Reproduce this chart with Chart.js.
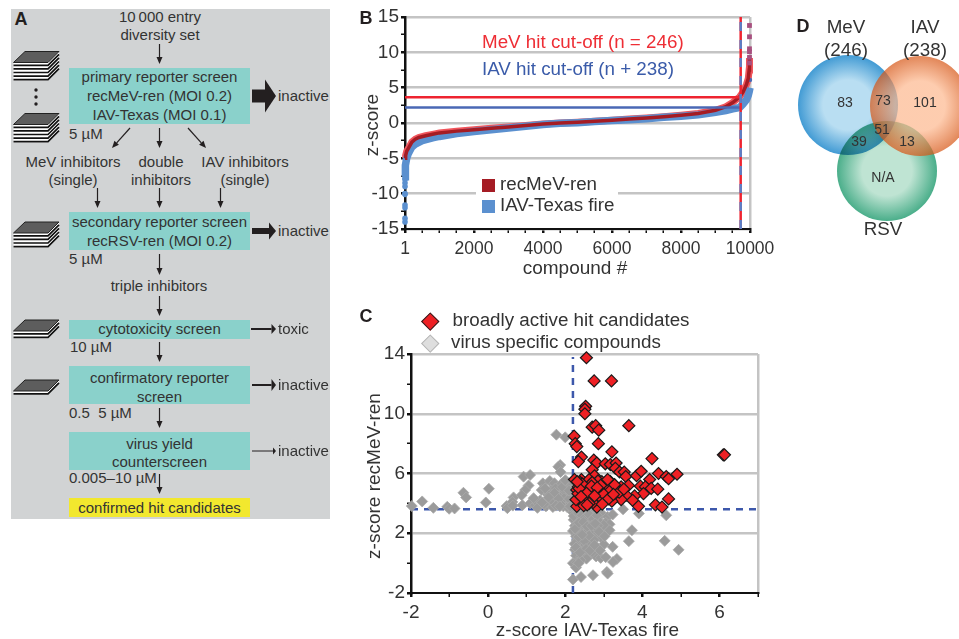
<!DOCTYPE html>
<html>
<head>
<meta charset="utf-8">
<title>screen</title>
<script src="https://cdn.jsdelivr.net/npm/chart.js@4"></script>
<style>
html, body { margin: 0; padding: 0; background: #fff; }
#page { position: relative; width: 959px; height: 639px; overflow: hidden; background: #fff; font-family: "Liberation Sans", Arial, sans-serif; color: #333; }
#page canvas, #page svg { position: absolute; }
.lab { position: absolute; white-space: pre; line-height: 1; transform: translate(-50%, -50%); }
.lab.left { transform: translate(0, -50%); }
.box { position: absolute; background: #8ad1cb; }
</style>
</head>
<body>
<div id="page">
  <div style="position:absolute;left:11px;top:9px;width:319px;height:510px;background:#d1d3d4"></div>
  <div class="box" style="left:69px;top:68px;width:181px;height:56px"></div>
  <div class="box" style="left:69px;top:212px;width:181px;height:38px"></div>
  <div class="box" style="left:69px;top:320px;width:181px;height:19px"></div>
  <div class="box" style="left:69px;top:366px;width:181px;height:38px"></div>
  <div class="box" style="left:69px;top:432px;width:181px;height:38px"></div>
  <div class="box" style="left:69px;top:498px;width:181px;height:19px;background:#f2e82e"></div>
  <svg id="flow" width="340" height="530" style="left:0;top:0"></svg>
  <canvas id="chartB" width="440" height="285" style="left:350px;top:0"></canvas>
  <canvas id="chartC" width="430" height="339" style="left:350px;top:300px"></canvas>
  <canvas id="chartD" width="179" height="250" style="left:780px;top:0"></canvas>
  <div style="position:absolute;left:476px;top:175px;width:142px;height:42px;background:#fff"></div>
  <div style="position:absolute;left:482px;top:179px;width:13px;height:13px;background:#a51c24"></div>
  <div style="position:absolute;left:482px;top:200px;width:13px;height:13px;background:#5b90cf"></div>
  <div style="position:absolute;left:423.5px;top:314.5px;width:10.5px;height:10.5px;background:#ee2024;border:1px solid #222;transform:rotate(45deg)"></div>
  <div style="position:absolute;left:423.5px;top:337px;width:10.5px;height:10.5px;background:#dedede;border:1px solid #b5b5b5;transform:rotate(45deg)"></div>
</div>
<script>
// panel B, sorted z-scores
var mevIndex = [1, 20, 50, 100, 200, 300, 400, 600, 800, 1000, 1500, 2000, 2500, 3000, 3500, 4000, 4500, 5000, 5500, 6000, 6500, 7000, 7500, 8000, 8500, 9000, 9300, 9500, 9700, 9800, 9850, 9900, 9950, 9975, 9985];
var mevZ = [-5, -4.6, -4, -3.6, -2.7, -2.3, -2.05, -1.8, -1.6, -1.4, -1.15, -0.95, -0.75, -0.55, -0.35, -0.15, 0, 0.1, 0.25, 0.4, 0.55, 0.7, 0.9, 1.1, 1.35, 1.8, 2.3, 2.9, 3.7, 4.4, 4.9, 5.5, 6.3, 7.5, 9.2];
var iavIndex = [1, 5, 20, 50, 100, 200, 300, 500, 800, 1000, 1500, 2000, 2500, 3000, 3500, 4000, 4500, 5000, 5500, 6000, 6500, 7000, 7500, 8000, 8500, 9000, 9300, 9500, 9700, 9800, 9900, 9950, 9980, 10000];
var iavZ = [-7.6, -6.6, -6, -5, -4.3, -3.4, -3, -2.5, -2.1, -1.9, -1.5, -1.2, -0.95, -0.7, -0.45, -0.2, -0.05, 0.05, 0.2, 0.35, 0.45, 0.6, 0.8, 0.95, 1.15, 1.5, 1.75, 2, 2.2, 2.7, 3.3, 3.9, 4.5, 5];
var mevTopIndex = [9985, 9985, 9985, 9985, 9985, 9985];
var mevTopZ = [13.8, 12.2, 10.5, 10.1, 9.3, 8.5];
var iavLowIndex = [1, 1, 1, 1, 1, 1, 1, 1, 1, 1];
var iavLowZ = [-8, -8.5, -9, -10, -10.1, -11.6, -12, -13.5, -14, -7.8];
var iavTopIndex = [10000];
var iavTopZ = [6.1];
var mevCutZ = 3.65;
var iavCutZ = 2.2;
var cutIndex = 9730;
var indexTicks = [1, 500, 1000, 1500, 2000, 2500, 3000, 3500, 4000, 4500, 5000, 5500, 6000, 6500, 7000, 7500, 8000, 8500, 9000, 9500, 10000];
var indexLabels = [1, 2000, 4000, 6000, 8000, 10000];
var zLabelsB = [-15, -10, -5, 0, 5, 10, 15];

// panel C, broadly active compounds
var hitIav = [2.55, 2.75, 3.2, 2.53, 2.51, 2.51, 2.7, 2.79, 2.87, 3.65,
  2.23, 2.26, 2.3, 2.86, 3.21, 2.42, 2.34, 2.74, 2.82, 4.25,
  6.1, 6.13, 3.04, 3.17, 3.32, 3.3, 3.41, 3.53, 3.57, 3.85,
  3.97, 4.42, 4.62, 4.68, 4.9, 4.19, 3.95, 4.08, 4.23, 4.4,
  4.03, 3.8, 3.64, 3.58, 3.45, 3.75, 3.9, 4.34, 4.51, 4.68,
  2.7, 2.76, 2.42, 2.24, 2.39, 2.6, 2.78, 2.95, 3.17, 3.0,
  3.08, 3.34, 3.21, 3.08, 2.87, 2.74, 2.6, 2.47, 2.39, 2.3,
  2.39, 2.82, 2.3, 2.39, 2.52, 2.67, 2.98, 2.34, 2.45, 2.55,
  2.65, 2.8, 2.9, 3.05, 3.15, 2.55, 2.35, 2.5, 2.85, 2.62,
  3.45, 2.9, 2.7, 3.0, 2.28, 2.33, 2.44, 2.58, 2.68, 2.72,
  2.92, 3.12, 3.28, 3.4, 2.48, 2.36, 2.62, 2.83, 2.96, 3.1,
  2.31, 2.41, 2.57, 3.25, 3.52, 2.76];
var hitMev = [13.75, 12.2, 12.2, 10.5, 10.3, 10.0, 9.1, 9.2, 8.9, 9.2,
  8.5, 8.0, 7.8, 8.0, 7.45, 7.1, 6.8, 6.9, 6.7, 7.0,
  7.25, 7.25, 6.65, 6.6, 6.7, 6.35, 6.1, 6.1, 5.8, 5.85,
  6.15, 6.0, 5.8, 5.65, 5.95, 5.6, 5.15, 5.1, 5.0, 4.95,
  4.65, 4.5, 5.2, 4.55, 4.25, 4.2, 3.8, 3.9, 3.75, 4.3,
  6.25, 5.85, 5.6, 5.6, 5.4, 5.35, 5.2, 5.45, 5.45, 5.0,
  5.05, 4.9, 4.15, 4.45, 4.65, 4.9, 4.45, 4.2, 4.9, 4.9,
  4.1, 3.75, 3.8, 4.55, 4.9, 4.2, 4.25, 5.1, 4.7, 5.0,
  4.7, 4.3, 4.9, 5.3, 4.8, 4.1, 4.35, 4.5, 5.5, 5.6,
  5.1, 4.45, 5.4, 4.6, 4.25, 4.65, 5.3, 4.75, 5.15, 4.05,
  5.2, 4.3, 5.25, 4.75, 3.85, 5.0, 4.0, 5.05, 3.95, 5.6,
  5.45, 4.45, 3.9, 4.6, 4.95, 4.5];
// panel C, virus specific compounds
var otherIav = [-1.98, -1.71, -1.42, -1.06, -1.01, -0.87, -0.64, -0.57, -0.06, 0.02,
  0.48, 0.5, 0.66, 0.63, 0.64, 0.92, 1.09, 1.05, 0.96, 0.87,
  0.89, 1.09, 1.22, 1.3, 1.42, 1.39, 1.35, 1.5, 1.28, 1.6,
  1.65, 1.7, 1.78, 1.52, 1.95, 1.87, 1.82, 1.88, 1.77, 2.0,
  1.72, 1.85, 1.95, 2.04, 2.12, 2.08, 1.98, 1.8, 1.62, 1.97,
  2.15, 2.18, 1.9, 1.75, 1.55, 1.45, 1.68, 2.05, 2.15, 1.88,
  2.2, 2.3, 2.45, 2.6, 2.75, 2.95, 3.1, 3.23, 3.5, 3.91,
  4.62, 2.22, 2.35, 2.48, 2.62, 2.78, 2.9, 3.05, 3.15, 2.25,
  2.38, 2.52, 2.65, 2.8, 2.95, 3.15, 3.0, 2.2, 2.32, 2.45,
  2.58, 2.7, 2.85, 3.73, 2.28, 2.42, 2.55, 2.66, 2.3, 2.95,
  3.0, 3.65, 4.58, 4.94, 2.35, 2.48, 2.6, 2.72, 2.85, 3.23,
  2.25, 2.38, 2.52, 2.66, 2.8, 2.92, 3.05, 3.34, 3.24, 2.28,
  2.42, 2.55, 2.7, 2.9, 2.2, 2.3, 2.4, 2.28, 2.2, 2.41,
  2.72, 3.08, 3.1, 2.35, 2.5, 2.75, 2.85, 2.4, 2.55, 2.7, 2.62, 2.32,
  1.58, 1.67, 1.72, 1.83, 1.92, 2.02, 2.1, 2.18, 1.48, 1.57,
  1.76, 1.86, 2.0, 2.1, 1.4, 1.18, 2.13, 2.22, 2.33, 2.43,
  2.52, 2.62, 2.72, 2.82, 2.26, 2.36, 2.47, 2.57, 2.68, 2.78,
  2.88, 3.02, 2.24, 2.34, 2.44, 2.54, 2.64, 2.76, 2.28, 2.38];
var otherMev = [3.82, 4.13, 3.7, 3.77, 3.64, 3.66, 4.71, 4.4, 4.06, 4.98,
  3.82, 3.68, 4.4, 4.1, 3.85, 5.79, 5.9, 5.2, 4.89, 4.55,
  3.88, 4.0, 3.88, 4.0, 5.34, 4.89, 4.2, 3.8, 3.7, 5.5,
  4.9, 4.4, 4.0, 4.2, 3.8, 6.57, 6.45, 6.1, 8.6, 8.42,
  5.35, 4.9, 4.7, 5.05, 5.2, 4.5, 4.1, 4.55, 3.95, 4.35,
  4.1, 4.55, 5.3, 5.0, 4.6, 3.95, 3.75, 3.75, 3.7, 3.95,
  3.4, 3.2, 3.5, 3.45, 3.4, 3.3, 3.1, 3.25, 3.6, 3.32,
  3.2, 2.9, 2.85, 2.9, 2.7, 2.9, 2.75, 2.7, 2.6, 2.5,
  2.45, 2.3, 2.35, 2.2, 2.35, 2.2, 2.55, 2.15, 2.1, 2.0,
  2.15, 1.9, 1.95, 2.2, 1.8, 1.7, 1.6, 1.45, 1.55, 1.65,
  1.25, 1.47, 1.49, 0.89, 1.25, 1.1, 1.2, 1.05, 1.0, 1.09,
  0.9, 0.85, 0.7, 0.6, 0.45, 0.35, 0.4, 0.28, 0.08, 0.5,
  0.45, 0.3, 0.75, 0.85, 0.0, 0.05, 0.2, -0.3, -1.1, -0.93,
  -0.81, -0.59, -0.7, 0.0, 1.5, 1.55, 2.5, 3.0, 2.55, 3.1, 1.85, 2.65,
  4.55, 4.15, 4.7, 4.3, 5.1, 5.5, 4.3, 4.9, 5.0, 4.4,
  3.85, 3.8, 5.55, 4.85, 4.05, 4.35, 3.8, 3.15, 3.35, 3.2,
  3.05, 3.25, 2.95, 3.2, 2.3, 2.7, 2.75, 2.45, 2.5, 2.65,
  2.1, 1.8, 1.3, 1.75, 1.9, 0.95, 0.85, 1.2, 1.05, 0.7];
var iavCutC = 2.2;
var mevCutC = 3.6;
var iavTicksC = [-2, -1, 0, 1, 2, 3, 4, 5, 6, 7];
var iavLabelsC = [-2, 0, 2, 4, 6];
var mevTicksC = [-2, 0, 2, 4, 6, 8, 10, 12, 14];
var mevLabelsC = [-2, 2, 6, 10, 14];

// panel D, three equal circles and the counts of each region
var vennNames = ["MeV", "IAV", "RSV"];
var vennTotals = ["(246)", "(238)"];
var vennCx = [68, 140, 107];
var vennCy = [105, 106, 171];
var vennR = [50, 50, 50];
var vennInner = ["#b9def2", "rgba(253,183,141,0.7)", "#bfe4d3"];
var vennOuter = ["#429bd4", "rgba(214,84,19,0.7)", "#4aae8a"];
var vennOrder = [3, 1, 2];
var vennCounts = ["83", "73", "101", "51", "39", "13", "N/A"];

var page = document.getElementById("page");
var svgNs = "http://www.w3.org/2000/svg";
var flow = document.getElementById("flow");
var axisFont = { family: "'Liberation Sans', Arial, sans-serif", size: 19 };
var indexFont = { family: "'Liberation Sans', Arial, sans-serif", size: 17.5 };

function label(text, x, y, size, opts) {
    opts = opts || {};
    var d = document.createElement("div");
    d.className = "lab" + (opts.left ? " left" : "");
    d.textContent = text;
    d.style.left = x + "px";
    d.style.top = y + "px";
    d.style.fontSize = size + "px";
    if (opts.color) d.style.color = opts.color;
    if (opts.bold) d.style.fontWeight = "bold";
    if (opts.rotate) d.style.transform = "translate(-50%,-50%) rotate(-90deg)";
    page.appendChild(d);
}
function shape(name, attrs) {
    var el = document.createElementNS(svgNs, name);
    for (var k in attrs) el.setAttribute(k, attrs[k]);
    flow.appendChild(el);
}
function arrow(x1, y1, x2, y2, w, len, half) {
    var a = Math.atan2(y2 - y1, x2 - x1);
    len = len || 7;
    half = half || 3;
    var bx = x2 - Math.cos(a) * len, by = y2 - Math.sin(a) * len;
    shape("line", { x1: x1, y1: y1, x2: bx, y2: by, stroke: "#231f20", "stroke-width": w });
    var px = Math.sin(a) * half, py = -Math.cos(a) * half;
    shape("polygon", { points: x2 + "," + y2 + " " + (bx + px) + "," + (by + py) + " " + (bx - px) + "," + (by - py), fill: "#231f20" });
}
function plates(y0, n, h) {
    var i, bottom = y0 + 11 + n * h;
    shape("polygon", { points: "13.5," + (y0 + 11) + " 25," + y0 + " 59," + y0 + " 59," + (bottom - 11) + " 48," + bottom + " 13.5," + bottom, fill: "#fff" });
    for (i = 1; i <= n; i++) {
        var yy = y0 + 11 + i * h - 0.8;
        shape("polyline", { points: "13.5," + yy + " 48," + yy + " 59," + (yy - 11), fill: "none", stroke: "#111", "stroke-width": 1.7 });
    }
    shape("polygon", { points: "13.5," + (y0 + 11) + " 25," + y0 + " 59," + y0 + " 48," + (y0 + 11), fill: "#5d5d5d", stroke: "#222", "stroke-width": 1 });
}

// panel A
plates(51.5, 5, 3.6);
plates(113.5, 5, 3.6);
plates(222, 4, 3.6);
plates(320, 2, 3.6);
plates(380, 1, 3.6);
[90, 97, 104].forEach(function (y) { shape("circle", { cx: 36, cy: y, r: 1.7, fill: "#231f20" }); });
[[159.5, 44, 159.5, 64], [130, 128, 112, 148], [159.5, 128, 159.5, 148], [188, 128, 206, 148],
 [97.5, 188, 97.5, 208], [159.5, 188, 159.5, 208], [220.5, 188, 220.5, 208], [159.5, 254, 159.5, 275],
 [159.5, 296, 159.5, 316], [159.5, 342, 159.5, 362], [159.5, 408, 159.5, 428], [159.5, 474, 159.5, 494]
].forEach(function (a) { arrow(a[0], a[1], a[2], a[3], 1.2); });
arrow(252, 96, 276, 96, 13, 11, 16.5);
arrow(252, 231, 276, 231, 6, 7, 8.5);
arrow(251, 329, 276, 329, 2, 4.5, 5);
arrow(252, 385, 276, 385, 2, 4.5, 6);
arrow(252, 451, 276, 451, 1, 3, 3.5);

label("A", 21, 19, 18, { bold: true, color: "#231f20" });
label("10\u2009000 entry", 160, 16, 15);
label("diversity set", 160, 34, 15);
label("primary reporter screen", 159.5, 76, 15);
label("recMeV-ren (MOI 0.2)", 159.5, 95, 15);
label("IAV-Texas (MOI 0.1)", 159.5, 114, 15);
label("5 \u00b5M", 69, 132.5, 15, { left: true });
label("MeV inhibitors", 73, 161, 15);
label("(single)", 73, 179, 15);
label("double", 161, 161, 15);
label("inhibitors", 161, 179, 15);
label("IAV inhibitors", 245, 161, 15);
label("(single)", 245, 179, 15);
label("secondary reporter screen", 159.5, 221, 15);
label("recRSV-ren (MOI 0.2)", 159.5, 240, 15);
label("5 \u00b5M", 69, 258, 15, { left: true });
label("triple inhibitors", 159, 285, 15);
label("cytotoxicity screen", 159.5, 328, 15);
label("10 \u00b5M", 70, 346, 15, { left: true });
label("confirmatory reporter", 159.5, 377, 15);
label("screen", 159.5, 396, 15);
label("0.5  5 \u00b5M", 69, 412, 15, { left: true });
label("virus yield", 159.5, 443, 15);
label("counterscreen", 159.5, 461, 15);
label("0.005\u201310 \u00b5M", 69, 477, 15, { left: true });
label("confirmed hit candidates", 159.5, 507, 15);
["inactive", "inactive", "toxic", "inactive", "inactive"].forEach(function (t, i) {
    label(t, 278, [95, 230, 328, 384, 450][i], 15, { left: true });
});

// panel B
label("B", 366, 18, 18, { bold: true, color: "#231f20" });
label("MeV hit cut-off (n = 246)", 482, 42, 18.8, { left: true, color: "#ee2e35" });
label("IAV hit cut-off (n + 238)", 482, 69, 18.8, { left: true, color: "#3a5ba9" });
label("recMeV-ren", 500, 184, 18.8, { left: true });
label("IAV-Texas fire", 500, 205, 18.8, { left: true });
label("z-score", 371, 125, 19, { rotate: true });
label("compound #", 575, 267, 19);

function xy(xs, ys) {
    return xs.map(function (x, i) { return { x: x, y: ys[i] }; });
}
function curve(xs, ys, color, width, order) {
    return { data: xy(xs, ys), showLine: true, borderColor: color, borderWidth: width, pointRadius: 0, order: order, clip: false };
}
function dots(xs, ys, color, radius, order, style) {
    return { data: xy(xs, ys), showLine: false, backgroundColor: color, borderWidth: 0, pointRadius: radius, pointStyle: style || "circle", order: order, clip: false };
}
function rule(x1, y1, x2, y2, color, width, order, dash) {
    return { data: [{ x: x1, y: y1 }, { x: x2, y: y2 }], showLine: true, borderColor: color, borderWidth: width, borderDash: dash || [], pointRadius: 0, order: order, clip: false };
}
function isMajor(list, v) { return list.indexOf(v) >= 0; }
function fixSize(prop, v) { return function (s) { s[prop] = v; }; }

new Chart(document.getElementById("chartB"), {
    type: "scatter",
    data: {
        datasets: [
            rule(cutIndex, -15, cutIndex, 15, "#5b7fc7", 2.5, 1, [9, 9]),
            rule(cutIndex, -15, cutIndex, 15, "#ee2430", 2.5, 2),
            rule(1, mevCutZ, cutIndex, mevCutZ, "#ee2430", 2.5, 3),
            rule(1, iavCutZ, cutIndex, iavCutZ, "#4a68b5", 2.5, 4),
            dots(mevTopIndex, mevTopZ, "#a8507f", 3.4, 5, "rect"),
            curve(mevIndex, mevZ, "#a51c24", 3.5, 6),
            curve(iavIndex, iavZ, "#5b90cf", 7.5, 7),
            dots(iavLowIndex, iavLowZ, "#5b90cf", 2.8, 7),
            dots(iavTopIndex, iavTopZ, "#4a68b5", 2.2, 7),
            curve(mevIndex, mevZ, "#f0555c", 7, 8)
        ]
    },
    options: {
        responsive: false,
        animation: false,
        layout: { autoPadding: false, padding: { left: 0, right: 40, top: 17, bottom: 0 } },
        plugins: { legend: { display: false }, tooltip: { enabled: false } },
        scales: {
            x: {
                type: "linear", min: 1, max: 10000,
                afterBuildTicks: function (s) { s.ticks = indexTicks.map(function (v) { return { value: v }; }); },
                afterFit: fixSize("height", 56),
                border: { color: "#111", width: 2 },
                grid: {
                    tickLength: 4, tickColor: "#111",
                    tickWidth: function (c) { return isMajor(indexLabels, c.tick.value) ? 2.5 : 1.5; },
                    color: function (c) { return c.tick && c.tick.value === 10000 ? "#c4c4c4" : "rgba(0,0,0,0)"; },
                    lineWidth: 2.5
                },
                ticks: {
                    color: "#333", font: indexFont, padding: 6, maxRotation: 0, autoSkip: false,
                    callback: function (v) { return isMajor(indexLabels, v) ? v : ""; }
                }
            },
            y: {
                min: -15, max: 15,
                ticks: {
                    stepSize: 2.5, color: "#333", font: axisFont, padding: 2, autoSkip: false,
                    callback: function (v) { return isMajor(zLabelsB, v) ? v : ""; }
                },
                afterFit: fixSize("width", 55),
                border: { color: "#111", width: 2.5 },
                grid: {
                    tickLength: 4, tickColor: "#111",
                    tickWidth: function (c) { return isMajor(zLabelsB, c.tick.value) ? 2.5 : 1.5; },
                    color: function (c) { return c.tick && isMajor(zLabelsB, c.tick.value) ? "#c4c4c4" : "rgba(0,0,0,0)"; },
                    lineWidth: 2.5
                }
            }
        }
    }
});

// panel C
label("C", 366, 316, 18, { bold: true, color: "#231f20" });
label("broadly active hit candidates", 452.5, 320, 18.8, { left: true });
label("virus specific compounds", 451, 342, 18.8, { left: true });
label("z-score recMeV-ren", 372.5, 476, 19, { rotate: true });
label("z-score IAV-Texas fire", 587.5, 629, 19);

new Chart(document.getElementById("chartC"), {
    type: "scatter",
    data: {
        datasets: [
            { data: xy(hitIav, hitMev), backgroundColor: "#ee2024", borderColor: "#1a1a1a", borderWidth: 1.2, pointStyle: "rectRot", pointRadius: 6, order: 1, clip: false },
            { data: xy(otherIav, otherMev), backgroundColor: "#9b9b9b", borderColor: "#aaaaaa", borderWidth: 0.8, pointStyle: "rectRot", pointRadius: 5.5, order: 2, clip: false },
            rule(iavCutC, -2, iavCutC, 13.8, "#3d58ab", 2.5, 3, [7, 6]),
            rule(-2, mevCutC, 7, mevCutC, "#3d58ab", 2.5, 3, [7, 6])
        ]
    },
    options: {
        responsive: false,
        animation: false,
        layout: { autoPadding: false, padding: { left: 0, right: 22, top: 54, bottom: 0 } },
        plugins: { legend: { display: false }, tooltip: { enabled: false } },
        scales: {
            x: {
                type: "linear", min: -2, max: 7,
                afterBuildTicks: function (s) { s.ticks = iavTicksC.map(function (v) { return { value: v }; }); },
                afterFit: fixSize("height", 46),
                border: { color: "#111", width: 2 },
                grid: {
                    tickLength: 4, tickColor: "#111",
                    tickWidth: function (c) { return isMajor(iavLabelsC, c.tick.value) ? 2.5 : 1.5; },
                    color: function (c) { return c.tick && c.tick.value === 7 ? "#c4c4c4" : "rgba(0,0,0,0)"; },
                    lineWidth: 2.5
                },
                ticks: {
                    color: "#333", font: axisFont, padding: 4, maxRotation: 0, autoSkip: false,
                    callback: function (v) { return isMajor(iavLabelsC, v) ? v : ""; }
                }
            },
            y: {
                min: -2, max: 14,
                afterBuildTicks: function (s) { s.ticks = mevTicksC.map(function (v) { return { value: v }; }); },
                ticks: {
                    color: "#333", font: axisFont, padding: 2, autoSkip: false,
                    callback: function (v) { return isMajor(mevLabelsC, v) ? v : ""; }
                },
                afterFit: fixSize("width", 61),
                border: { color: "#111", width: 2.5 },
                grid: {
                    tickLength: 4, tickColor: "#111",
                    tickWidth: function (c) { return isMajor(mevLabelsC, c.tick.value) ? 2.5 : 1.5; },
                    color: function (c) { return c.tick && isMajor(mevLabelsC, c.tick.value) && c.tick.value !== -2 ? "#c4c4c4" : "rgba(0,0,0,0)"; },
                    lineWidth: 2.5
                }
            }
        }
    }
});

// panel D, green multiplies onto blue, orange sits over both
var blendVenn = {
    id: "blendVenn",
    beforeDatasetDraw: function (chart, args) {
        chart.ctx.save();
        chart.ctx.globalCompositeOperation = args.index === 1 ? "source-over" : "multiply";
    },
    afterDatasetDraw: function (chart) { chart.ctx.restore(); }
};
new Chart(document.getElementById("chartD"), {
    type: "bubble",
    data: {
        datasets: vennNames.map(function (name, i) {
            return {
                label: name,
                order: vennOrder[i],
                data: [{ x: vennCx[i], y: vennCy[i], r: vennR[i] }],
                borderWidth: 0,
                clip: false,
                backgroundColor: function (c) {
                    var sx = c.chart.scales.x.getPixelForValue(vennCx[i]), sy = c.chart.scales.y.getPixelForValue(vennCy[i]);
                    if (!isFinite(sx) || !isFinite(sy)) return vennOuter[i];
                    var g = c.chart.ctx.createRadialGradient(sx, sy, 0, sx, sy, vennR[i]);
                    g.addColorStop(0, vennInner[i]);
                    g.addColorStop(0.5, vennInner[i]);
                    g.addColorStop(1, vennOuter[i]);
                    return g;
                }
            };
        })
    },
    options: {
        responsive: false,
        animation: false,
        layout: { autoPadding: false, padding: 0 },
        plugins: { legend: { display: false }, tooltip: { enabled: false } },
        scales: {
            x: { display: false, min: 0, max: 179 },
            y: { display: false, min: 0, max: 250, reverse: true }
        }
    },
    plugins: [blendVenn]
});
label("D", 803, 26, 18, { bold: true, color: "#231f20" });
label(vennNames[0], 846, 27, 18.8);
label(vennTotals[0], 846, 50, 18.8);
label(vennNames[1], 925, 27, 18.8);
label(vennTotals[1], 925, 50, 18.8);
label(vennNames[2], 883, 229, 18.8);
[[845, 102], [883, 99.5], [925, 102], [882, 129], [859, 141], [907, 141], [883, 177]].forEach(function (p, i) {
    label(vennCounts[i], p[0], p[1], 14);
});
</script>
</body>
</html>
